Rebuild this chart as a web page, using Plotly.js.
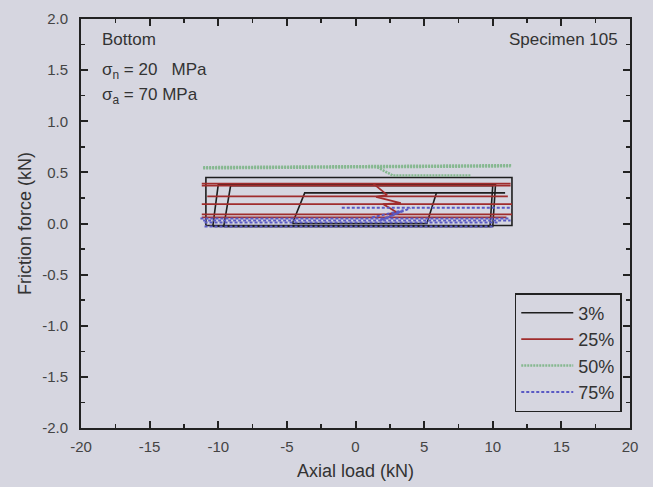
<!DOCTYPE html>
<html>
<head>
<meta charset="utf-8">
<script src="https://cdn.plot.ly/plotly-3.0.1.min.js"></script>
<style>html,body{margin:0;padding:0;background:#d6d6e0;}#chart{width:653px;height:487px;}</style>
</head>
<body>
<div id="chart"></div>
<script>
// Series names (legend)
const seriesNames = ["3%", "25%", "50%", "75%"];

// 3% (black) – hysteresis loops, null separates loops
const x3 = [-10.9, -10.9, 11.4, 11.4, -10.9, null,
            -10.4, -10.0, 10.2, 10.0, -10.4, null,
            -9.6, -9.1, 10.0, 9.8, -9.6, null,
            -4.6, -3.7, 10.9, null,
            5.9, 5.2, -4.6];
const y3 = [-0.02, 0.45, 0.45, -0.02, -0.02, null,
            -0.03, 0.38, 0.38, -0.03, -0.03, null,
            -0.03, 0.37, 0.37, -0.03, -0.03, null,
            0.0, 0.30, 0.30, null,
            0.30, 0.0, 0.0];

// 25% (red)
const x25 = [-11.2, 11.3, null, -11.2, 11.3, null, -10.8, 11.1, null,
             -11.2, 11.4, null, -11.2, 11.4, null, -11.2, 11.0, null,
             1.3, 2.3, 1.5, 3.3, 2.0, 3.0, 2.3];
const y25 = [0.39, 0.39, null, 0.37, 0.37, null, 0.265, 0.265, null,
             0.19, 0.19, null, 0.09, 0.09, null, 0.06, 0.06, null,
             0.39, 0.28, 0.26, 0.20, 0.19, 0.11, 0.09];

// 50% (green)
const x50 = [-11.1, 11.4, null, -11.1, 11.3, null, 1.6, 2.7, 8.4];
const y50 = [0.55, 0.57, null, 0.54, 0.56, null, 0.55, 0.47, 0.47];

// 75% (blue)
const x75 = [-1.0, 11.4, null, -11.3, 11.2, null, -11.1, 11.3, null,
             -11.0, 10.5, null, -11.0, 10.0, null,
             1.2, 3.5, 1.8, 4.0];
const y75 = [0.155, 0.155, null, 0.05, 0.05, null, 0.03, 0.03, null,
             0.01, 0.01, null, -0.03, -0.03, null,
             0.06, 0.13, 0.03, 0.15];

const xTicks = [-20, -15, -10, -5, 0, 5, 10, 15, 20];
const yTicks = [-2.0, -1.5, -1.0, -0.5, 0.0, 0.5, 1.0, 1.5, 2.0];

const colors = ["#1e1e1e", "#a02c2c", "#86b890", "#5a5ac4"];
const dashes = ["solid", "solid", "2px,1px", "3px,2px"];
const widths = [1.6, 1.8, 2.6, 2];
const xs = [x3, x25, x50, x75];
const ys = [y3, y25, y50, y75];

const traces = seriesNames.map((n, i) => ({
  x: xs[i], y: ys[i], name: n, type: "scatter", mode: "lines",
  connectgaps: false,
  line: {color: colors[i], width: widths[i], dash: dashes[i]}
}));

const font = {family: "Liberation Sans, Arial, sans-serif", color: "#333"};
const axisCommon = {
  showline: true, linecolor: "#222", linewidth: 2, mirror: "ticks",
  ticks: "inside", ticklen: 7, tickwidth: 2, tickcolor: "#222",
  showgrid: false, zeroline: false,
  tickfont: {family: font.family, size: 15, color: "#444"}
};

const layout = {
  width: 653, height: 487,
  paper_bgcolor: "#d6d6e0", plot_bgcolor: "#d6d6e0",
  margin: {l: 81, r: 23, t: 19, b: 59},
  showlegend: true,
  legend: {x: 0.985, y: 0.039, xanchor: "right", yanchor: "bottom",
           bgcolor: "rgba(0,0,0,0)", bordercolor: "#222", borderwidth: 1.5,
           font: {family: font.family, size: 18, color: "#333"},
           tracegroupgap: 0, itemwidth: 52},
  xaxis: Object.assign({}, axisCommon, {
    range: [-20, 20], tickvals: xTicks, ticktext: xTicks.map(String),
    ticklabelstandoff: 4,
    minor: {ticks: "inside", ticklen: 4, tickwidth: 1.5, tickcolor: "#222", dtick: 2.5},
    title: {text: "Axial load (kN)", font: {family: font.family, size: 18, color: "#333"}, standoff: 10}
  }),
  yaxis: Object.assign({}, axisCommon, {
    range: [-2, 2], tickvals: yTicks, ticktext: yTicks.map(v => v.toFixed(1)),
    ticklabelstandoff: 8,
    minor: {ticks: "inside", ticklen: 4, tickwidth: 1.5, tickcolor: "#222", dtick: 0.25},
    title: {text: "Friction force (kN)", font: {family: font.family, size: 18, color: "#333"}, standoff: 6}
  }),
  annotations: [
    {xref: "paper", yref: "paper", x: 0.035, y: 0.949, xanchor: "left", yanchor: "middle",
     text: "Bottom", showarrow: false, font: {family: font.family, size: 17, color: "#333"}},
    {xref: "paper", yref: "paper", x: 0.035, y: 0.872, xanchor: "left", yanchor: "middle",
     text: "σ<sub>n</sub> = 20   MPa", showarrow: false, font: {family: font.family, size: 17, color: "#333"}},
    {xref: "paper", yref: "paper", x: 0.035, y: 0.812, xanchor: "left", yanchor: "middle",
     text: "σ<sub>a</sub> = 70 MPa", showarrow: false, font: {family: font.family, size: 17, color: "#333"}},
    {xref: "paper", yref: "paper", x: 0.982, y: 0.949, xanchor: "right", yanchor: "middle",
     text: "Specimen 105", showarrow: false, font: {family: font.family, size: 17, color: "#333"}}
  ]
};

Plotly.newPlot("chart", traces, layout, {displayModeBar: false, staticPlot: true});
</script>
</body>
</html>
